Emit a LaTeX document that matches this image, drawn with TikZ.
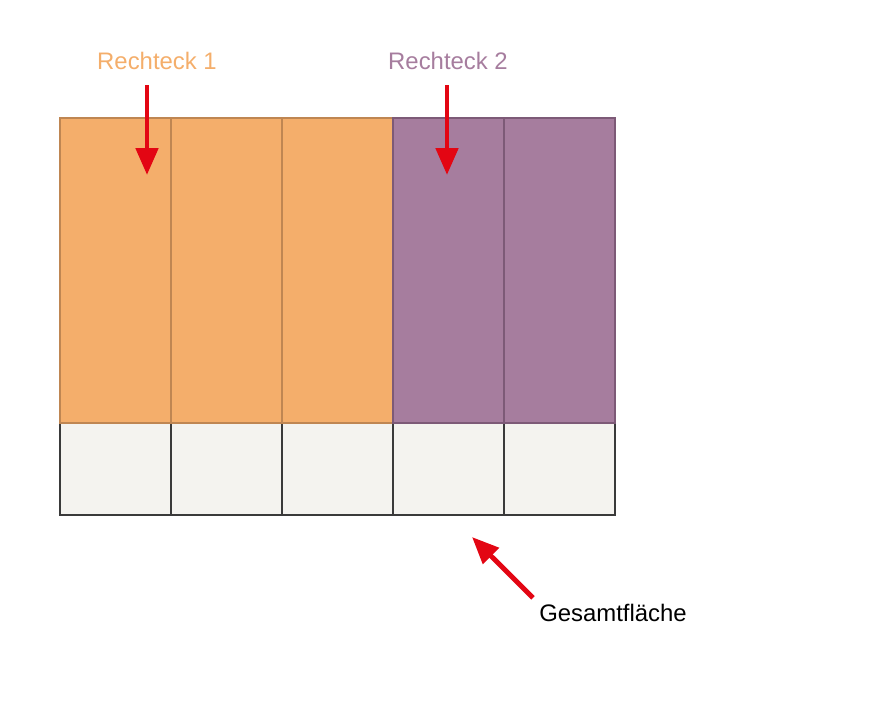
\documentclass[tikz,border=0pt]{standalone}
\usepackage{fontspec}
\setmainfont{Liberation Sans}
\usetikzlibrary{arrows.meta}
\definecolor{orangefill}{HTML}{F4AE6B}
\definecolor{orangeline}{HTML}{BF8652}
\definecolor{purplefill}{HTML}{A67D9E}
\definecolor{purpleline}{HTML}{7D5A77}
\definecolor{greyfill}{HTML}{F4F3EF}
\definecolor{greyline}{HTML}{3A3A3A}
\definecolor{arrowred}{HTML}{E30613}
\begin{document}
\begin{tikzpicture}
[x=0.02cm,y=-0.02cm,
  celldecorate/.style={shape=rectangle,inner sep=0pt,draw,line width=1pt,
    minimum width=2.22cm},%
  topcell/.style={celldecorate,minimum height=6.1cm},%
  bottomcell/.style={celldecorate,minimum height=1.84cm,fill=greyfill,draw=greyline},%
  labeldecorate/.style={inner sep=0pt,font=\fontsize{13.6}{16}\selectfont},%
  arrowdecorate/.style={-{Triangle[length=0.54cm,width=0.44cm]},line width=2.8pt,draw=arrowred,fill=arrowred}]
\useasboundingbox (0,0) rectangle (890,720);
%% bottom row
\foreach \nodename/\x in {u1/115.5, u2/226.5, u3/337.5, u4/448.5, u5/559.5} {
  \node (\nodename) at (\x,469) [bottomcell] {};
}
%% top row
\foreach \nodename/\x/\colname in {o1/115.5/orange, o2/226.5/orange, o3/337.5/orange, o4/448.5/purple, o5/559.5/purple} {
  \node (\nodename) at (\x,270.5) [topcell,fill=\colname fill,draw=\colname line] {};
}
%% labels
\node (r1) at (157,61) [labeldecorate,text=orangefill] {Rechteck 1};
\node (r2) at (448,61) [labeldecorate,text=purplefill] {Rechteck 2};
\node (g) at (613,613) [labeldecorate] {Gesamtfläche};
%% arrow tips
\coordinate (t1) at (147,175);
\coordinate (t2) at (447,175);
\coordinate (t3) at (472,537);
%% arrows
\draw[arrowdecorate,shorten <=0.3cm] (r1.south -| t1) -- (t1);
\draw[arrowdecorate,shorten <=0.3cm] (r2.south -| t2) -- (t2);
\draw[arrowdecorate] ([shift={(-6,-6)}]g.north west) -- (t3);
\end{tikzpicture}
\end{document}
